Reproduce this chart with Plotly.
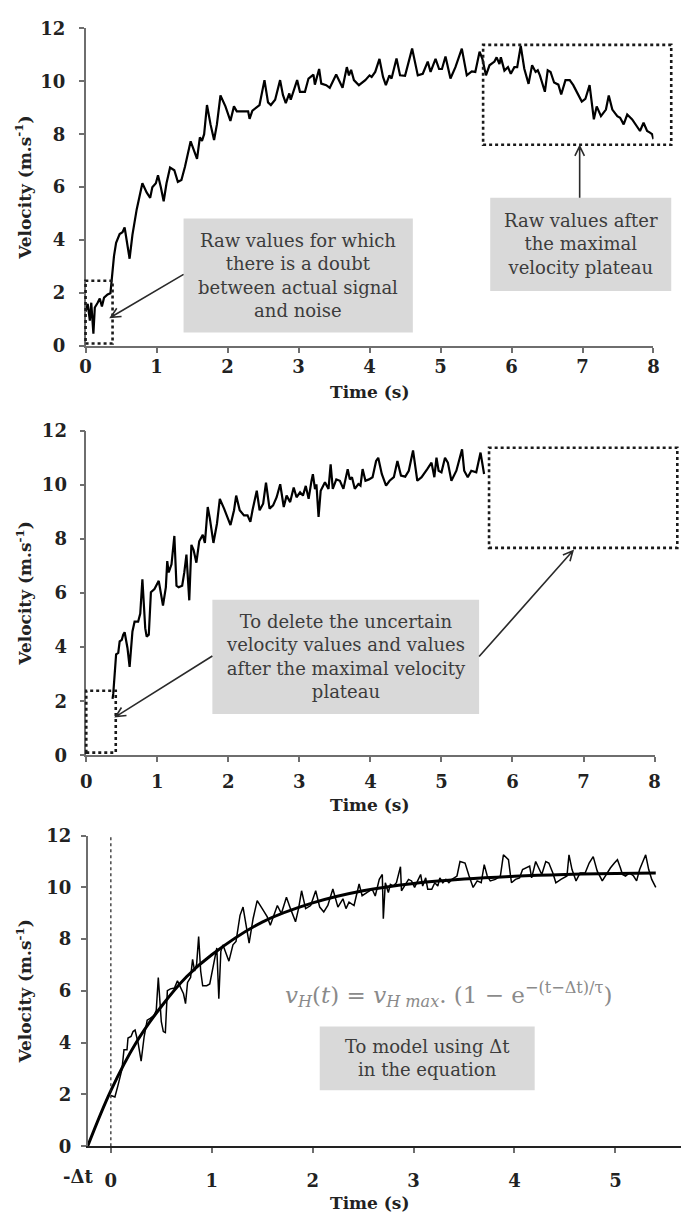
import math
import plotly.graph_objects as go

# ---------------- data ----------------
# Panel 1: raw velocity signal (whole run)
t_raw1 = [0.00, 0.03, 0.06, 0.08, 0.11, 0.13, 0.17, 0.20, 0.23, 0.26, 0.31, 0.35, 0.40, 0.43, 0.48, 0.52,
          0.55, 0.58, 0.62, 0.66, 0.72, 0.80, 0.86, 0.91, 0.94, 0.99, 1.02, 1.06, 1.10, 1.14, 1.19, 1.25,
          1.30, 1.35, 1.40, 1.48, 1.53, 1.57, 1.61, 1.64, 1.67, 1.71, 1.76, 1.81, 1.85, 1.90, 1.97, 2.04,
          2.09, 2.13, 2.29, 2.31, 2.35, 2.40, 2.45, 2.52, 2.57, 2.61, 2.67, 2.74, 2.78, 2.82, 2.87, 2.89,
          2.93, 2.98, 3.02, 3.09, 3.14, 3.21, 3.23, 3.29, 3.32, 3.39, 3.44, 3.53, 3.62, 3.68, 3.71, 3.74,
          3.78, 3.85, 3.94, 4.00, 4.03, 4.08, 4.14, 4.19, 4.23, 4.28, 4.31, 4.38, 4.43, 4.50, 4.60, 4.68,
          4.75, 4.82, 4.86, 4.93, 4.98, 5.02, 5.07, 5.14, 5.21, 5.30, 5.37, 5.44, 5.49, 5.55, 5.59, 5.64,
          5.69, 5.76, 5.79, 5.83, 5.85, 5.90, 5.95, 5.99, 6.04, 6.08, 6.13, 6.18, 6.24, 6.29, 6.34, 6.37,
          6.40, 6.47, 6.51, 6.55, 6.60, 6.66, 6.70, 6.76, 6.82, 6.87, 6.93, 6.99, 7.04, 7.10, 7.16, 7.20,
          7.26, 7.33, 7.37, 7.42, 7.49, 7.53, 7.58, 7.63, 7.70, 7.75, 7.81, 7.86, 7.91, 7.95, 7.98, 8.00]
v_raw1 = [1.30, 1.60, 0.96, 1.64, 0.47, 1.46, 1.64, 1.80, 1.50, 1.83, 1.95, 2.00, 3.40, 3.90, 4.23, 4.30,
          4.48, 3.90, 3.30, 4.20, 5.16, 6.15, 5.80, 5.60, 6.00, 6.15, 6.45, 6.00, 5.47, 6.15, 6.74, 6.64,
          6.20, 6.27, 6.77, 7.73, 7.38, 7.07, 7.88, 7.75, 8.00, 9.10, 8.37, 7.78, 8.37, 9.46, 9.05, 8.50,
          9.05, 8.86, 8.86, 8.58, 8.89, 9.00, 9.10, 10.04, 9.20, 9.10, 9.30, 10.04, 9.48, 9.17, 9.54, 9.30,
          9.60, 10.04, 9.60, 9.60, 10.10, 10.25, 9.87, 10.46, 9.91, 9.85, 9.75, 10.25, 9.75, 10.53, 10.22, 10.43,
          10.04, 9.85, 10.04, 10.22, 10.16, 10.35, 10.84, 10.16, 9.85, 10.22, 10.10, 10.86, 10.22, 10.20, 11.23, 10.22,
          10.28, 10.74, 10.35, 10.84, 10.46, 10.46, 10.93, 10.10, 10.53, 11.23, 10.22, 10.37, 10.35, 11.11, 10.84, 10.22,
          10.60, 10.74, 10.90, 10.65, 10.90, 10.40, 10.53, 10.28, 10.53, 10.53, 11.33, 10.47, 9.90, 10.60, 10.35, 10.41,
          10.22, 9.60, 10.41, 10.35, 9.95, 9.87, 9.50, 10.04, 10.04, 9.85, 9.54, 9.23, 9.33, 9.85, 8.56, 9.05,
          8.68, 8.93, 9.46, 8.93, 8.68, 8.62, 8.37, 8.74, 8.56, 8.37, 8.12, 8.43, 8.12, 8.06, 8.00, 7.81]

# Panel 2: raw signal after deleting uncertain values
t_raw2 = [0.37, 0.38, 0.42, 0.45, 0.47, 0.50, 0.52, 0.54, 0.58, 0.61, 0.65, 0.68, 0.73, 0.76, 0.79, 0.83,
          0.85, 0.88, 0.91, 0.96, 1.02, 1.05, 1.08, 1.12, 1.14, 1.16, 1.20, 1.24, 1.27, 1.30, 1.35, 1.38,
          1.41, 1.45, 1.48, 1.51, 1.55, 1.59, 1.64, 1.67, 1.71, 1.74, 1.79, 1.84, 1.88, 1.94, 1.99, 2.03,
          2.08, 2.11, 2.16, 2.22, 2.27, 2.31, 2.34, 2.40, 2.44, 2.49, 2.53, 2.58, 2.63, 2.68, 2.73, 2.78,
          2.82, 2.87, 2.92, 2.96, 3.01, 3.05, 3.09, 3.13, 3.17, 3.19, 3.22, 3.24, 3.27, 3.30, 3.36, 3.41,
          3.44, 3.47, 3.52, 3.57, 3.62, 3.68, 3.71, 3.74, 3.78, 3.83, 3.86, 3.89, 3.93, 3.98, 4.03, 4.08,
          4.11, 4.16, 4.22, 4.27, 4.33, 4.38, 4.43, 4.49, 4.54, 4.60, 4.66, 4.72, 4.80, 4.86, 4.90, 4.93,
          4.96, 5.00, 5.05, 5.09, 5.14, 5.21, 5.29, 5.32, 5.37, 5.42, 5.49, 5.55, 5.60]
v_raw2 = [2.09, 2.28, 3.73, 3.79, 4.21, 4.27, 4.46, 4.55, 3.97, 3.27, 4.58, 4.94, 4.94, 5.24, 6.51, 4.70,
          4.39, 4.46, 6.03, 6.15, 6.45, 6.03, 5.54, 6.21, 7.18, 6.76, 7.06, 8.11, 6.27, 6.21, 6.27, 6.76,
          7.42, 5.73, 7.78, 7.60, 7.12, 7.91, 8.15, 7.85, 9.18, 8.75, 7.85, 8.57, 9.48, 9.12, 8.81, 8.51,
          9.06, 9.60, 9.06, 8.87, 8.87, 8.63, 9.06, 9.78, 9.06, 9.30, 10.08, 9.12, 9.24, 9.54, 10.02, 9.18,
          9.60, 9.36, 9.90, 9.54, 9.72, 9.60, 9.96, 9.48, 10.14, 10.39, 9.84, 10.02, 8.81, 9.78, 10.09, 9.85,
          10.76, 9.85, 10.20, 10.15, 9.85, 10.58, 10.20, 10.28, 9.85, 10.03, 9.97, 10.58, 10.15, 10.20, 10.28, 10.88,
          11.00, 10.40, 9.97, 10.15, 10.28, 10.88, 10.34, 10.30, 10.52, 11.27, 10.15, 10.28, 10.58, 10.82, 10.28, 11.00,
          10.52, 10.46, 11.00, 10.82, 10.15, 10.52, 11.31, 10.52, 10.28, 10.52, 10.46, 11.19, 10.40]

# Panel 3: retained raw signal, time re-referenced
t_raw3 = [0.00, 0.04, 0.07, 0.11, 0.13, 0.16, 0.17, 0.20, 0.22, 0.24, 0.27, 0.30, 0.33, 0.36, 0.39, 0.43,
          0.45, 0.47, 0.50, 0.52, 0.54, 0.56, 0.59, 0.63, 0.66, 0.69, 0.72, 0.74, 0.76, 0.79, 0.81, 0.83,
          0.85, 0.87, 0.89, 0.91, 0.95, 0.98, 1.02, 1.05, 1.07, 1.09, 1.11, 1.15, 1.17, 1.21, 1.24, 1.28,
          1.31, 1.34, 1.37, 1.41, 1.45, 1.50, 1.55, 1.58, 1.62, 1.65, 1.69, 1.74, 1.78, 1.83, 1.86, 1.89,
          1.93, 1.98, 2.03, 2.07, 2.11, 2.15, 2.20, 2.25, 2.30, 2.33, 2.36, 2.41, 2.46, 2.49, 2.54, 2.57,
          2.59, 2.62, 2.66, 2.69, 2.70, 2.72, 2.75, 2.77, 2.80, 2.83, 2.87, 2.88, 2.91, 2.95, 2.98, 3.01,
          3.04, 3.07, 3.09, 3.12, 3.14, 3.18, 3.21, 3.24, 3.26, 3.29, 3.32, 3.35, 3.38, 3.43, 3.46, 3.51,
          3.55, 3.59, 3.63, 3.67, 3.70, 3.73, 3.76, 3.81, 3.86, 3.89, 3.94, 3.97, 4.01, 4.05, 4.08, 4.12,
          4.15, 4.17, 4.21, 4.24, 4.27, 4.31, 4.34, 4.38, 4.41, 4.46, 4.49, 4.52, 4.54, 4.57, 4.61, 4.65,
          4.70, 4.74, 4.78, 4.82, 4.87, 4.91, 4.95, 4.99, 5.02, 5.05, 5.07, 5.10, 5.14, 5.18, 5.21, 5.24,
          5.28, 5.30, 5.33, 5.36, 5.40]
v_raw3 = [1.96, 1.90, 2.34, 2.97, 3.73, 3.73, 4.18, 4.24, 4.43, 4.49, 3.99, 3.29, 4.24, 4.87, 4.94, 5.06,
          5.25, 6.52, 4.81, 4.43, 4.39, 6.01, 6.08, 6.11, 6.39, 6.14, 5.89, 5.51, 6.33, 6.52, 7.22, 6.77,
          7.03, 8.10, 6.77, 6.20, 6.20, 6.27, 7.09, 7.66, 5.70, 7.53, 7.78, 7.34, 7.15, 7.78, 7.91, 8.92,
          9.24, 8.54, 7.85, 8.80, 9.49, 9.18, 8.86, 8.54, 8.99, 9.30, 8.99, 9.62, 9.18, 8.67, 9.18, 9.87,
          9.18, 9.30, 9.87, 9.24, 9.05, 9.30, 9.94, 9.24, 9.56, 9.18, 9.43, 9.30, 10.13, 9.68, 9.81, 9.87,
          9.93, 9.67, 10.31, 10.50, 8.79, 10.18, 9.80, 10.12, 10.05, 10.18, 10.80, 9.87, 10.05, 10.31, 10.25, 10.00,
          10.25, 10.50, 10.05, 10.37, 9.93, 9.93, 10.18, 10.05, 10.37, 10.18, 10.31, 10.18, 10.31, 10.44, 11.00, 10.94,
          10.44, 10.00, 10.25, 10.18, 10.88, 10.44, 10.25, 10.31, 10.44, 11.26, 11.07, 10.18, 10.31, 10.37, 10.69, 10.75,
          10.82, 10.37, 11.00, 10.75, 10.50, 11.00, 10.94, 10.56, 10.18, 10.31, 10.37, 10.44, 11.26, 10.69, 10.25, 10.56,
          10.56, 10.94, 11.19, 10.63, 10.25, 10.50, 10.75, 10.94, 11.07, 10.75, 10.50, 10.44, 10.56, 10.44, 10.25, 10.69,
          11.07, 11.26, 10.69, 10.31, 10.00]

# Panel 3: modelled curve
t_model = [-0.23, 0.00, 0.25, 0.50, 0.75, 1.00, 1.50, 2.00, 2.50, 3.00, 3.50, 4.00, 4.50, 5.00, 5.40]
v_model = [0.00, 2.15, 4.00, 5.40, 6.55, 7.40, 8.66, 9.40, 9.87, 10.15, 10.32, 10.43, 10.50, 10.54, 10.56]

x_ticks_12 = [0, 1, 2, 3, 4, 5, 6, 7, 8]
x_ticks_3 = [0, 1, 2, 3, 4, 5]
y_ticks = [0, 2, 4, 6, 8, 10, 12]
delta_t = 0.23

x_title = "Time (s)"
y_title = "Velocity (m.s<sup>-1</sup>)"
txt_doubt = "Raw values for which<br>there is a doubt<br>between actual signal<br>and noise"
txt_after = "Raw values after<br>the maximal<br>velocity plateau"
txt_delete = "To delete the uncertain<br>velocity values and values<br>after the maximal velocity<br>plateau"
txt_model = "To model using \u0394t<br>in the equation"
txt_eq = ("<i>v<sub>H</sub></i>(<i>t</i>) = <i>v<sub>H max</sub></i>. (1 \u2212 e<sup>\u2212(t\u2212\u0394t)/\u03c4</sup>)")

# ---------------- layout geometry ----------------
W, H = 687, 1227
P = {
    1: dict(xd=[81 / W, 659 / W], yd=[1 - 341 / H, 1 - 17.5 / H], xr=[0, 8], yr=[0, 12]),
    2: dict(xd=[81.7 / W, 660.1 / W], yd=[1 - 757.3 / H, 1 - 427 / H], xr=[0, 8], yr=[0, 12]),
    3: dict(xd=[83.1 / W, 1.0], yd=[1 - 1155 / H, 1 - 839 / H], xr=[-delta_t, 5.65], yr=[0, 12]),
}


def to_px(p, t, v):
    g = P[p]
    fx = (t - g["xr"][0]) / (g["xr"][1] - g["xr"][0])
    fy = (v - g["yr"][0]) / (g["yr"][1] - g["yr"][0])
    px = (g["xd"][0] + fx * (g["xd"][1] - g["xd"][0])) * W
    py = (1 - (g["yd"][0] + fy * (g["yd"][1] - g["yd"][0]))) * H
    return px, py


def px_to_paper(px, py):
    return px / W, 1 - py / H


def to_paper(p, t, v):
    return px_to_paper(*to_px(p, t, v))


FONT = "DejaVu Serif"
shapes, annos = [], []


def box(p, t0, v0, t1, v1, dotted=True):
    x0, y0 = to_paper(p, t0, v0)
    x1, y1 = to_paper(p, t1, v1)
    if dotted:
        shapes.append(dict(type="rect", xref="paper", yref="paper", x0=x0, y0=y0, x1=x1, y1=y1,
                           line=dict(color="#1a1a1a", width=2.6, dash="dot"), fillcolor="rgba(0,0,0,0)"))
    else:
        shapes.append(dict(type="rect", xref="paper", yref="paper", x0=x0, y0=y0, x1=x1, y1=y1,
                           line=dict(width=0), fillcolor="#d9d9d9", layer="below"))


def text_box(p, t0, v0, t1, v1, text):
    box(p, t0, v0, t1, v1, dotted=False)
    xc, yc = to_paper(p, (t0 + t1) / 2, (v0 + v1) / 2)
    annos.append(dict(xref="paper", yref="paper", x=xc, y=yc, text=text, showarrow=False,
                      xanchor="center", yanchor="middle",
                      font=dict(family=FONT, size=18, color="#3c3c3c"), align="center"))


def arrow(p, tail, head, wing=11, ang=26):
    tx, ty = to_px(p, *tail)
    hx, hy = to_px(p, *head)
    dx, dy = tx - hx, ty - hy
    n = math.hypot(dx, dy)
    ux, uy = dx / n, dy / n
    pts = []
    for s in (1, -1):
        a = math.radians(ang) * s
        wx = hx + wing * (ux * math.cos(a) - uy * math.sin(a))
        wy = hy + wing * (ux * math.sin(a) + uy * math.cos(a))
        pts.append(px_to_paper(wx, wy))
    T = px_to_paper(tx, ty)
    Hh = px_to_paper(hx, hy)
    path = (f"M {T[0]},{T[1]} L {Hh[0]},{Hh[1]} "
            f"M {pts[0][0]},{pts[0][1]} L {Hh[0]},{Hh[1]} L {pts[1][0]},{pts[1][1]}")
    shapes.append(dict(type="path", xref="paper", yref="paper", path=path,
                       line=dict(color="#2a2a2a", width=1.6)))


# ---------------- figure ----------------
fig = go.Figure()
fig.add_trace(go.Scatter(x=t_raw1, y=v_raw1, mode="lines", line=dict(color="black", width=2.2),
                         xaxis="x", yaxis="y", showlegend=False, hoverinfo="skip"))
fig.add_trace(go.Scatter(x=t_raw2, y=v_raw2, mode="lines", line=dict(color="black", width=2.2),
                         xaxis="x2", yaxis="y2", showlegend=False, hoverinfo="skip"))
fig.add_trace(go.Scatter(x=t_raw3, y=v_raw3, mode="lines", line=dict(color="black", width=1.5),
                         xaxis="x3", yaxis="y3", showlegend=False, hoverinfo="skip"))
fig.add_trace(go.Scatter(x=t_model, y=v_model, mode="lines", line=dict(color="black", width=3, shape="spline"),
                         xaxis="x3", yaxis="y3", showlegend=False, hoverinfo="skip"))

tickfont = dict(family=FONT, size=18, color="#222222", weight="bold")
ax_common = dict(showline=True, linecolor="#6e6e6e", linewidth=1.5, ticks="outside", ticklen=5,
                 tickcolor="#6e6e6e", tickwidth=1.5, showgrid=False, zeroline=False, tickfont=tickfont,
                 fixedrange=True)

lay = {}
for p in (1, 2, 3):
    sx = "" if p == 1 else str(p)
    g = P[p]
    xt = x_ticks_12 if p < 3 else x_ticks_3
    lay["xaxis" + sx] = dict(ax_common, domain=g["xd"], range=g["xr"], anchor="y" + sx,
                             tickvals=xt, ticktext=[str(v) for v in xt],
                             ticklabelstandoff={1: -2, 2: 4, 3: 12}[p])
    lay["yaxis" + sx] = dict(ax_common, domain=g["yd"], range=g["yr"], anchor="x" + sx,
                             tickvals=y_ticks, ticktext=[str(v) for v in y_ticks],
                             ticklabelstandoff={1: 10, 2: 9, 3: 6}[p])
lay["xaxis3"]["linecolor"] = "#222222"
lay["xaxis3"]["linewidth"] = 2

# axis titles
title_font = dict(family=FONT, size=17, color="#222222", weight="bold")
for p, ty in ((1, 388), (2, 808), (3, 1213)):
    annos.append(dict(xref="paper", yref="paper", x=370 / W, y=1 - ty / H, text=x_title, showarrow=False,
                      font=title_font, xanchor="center", yanchor="middle"))
    yc = (to_px(p, 0, 0)[1] + to_px(p, 0, 12)[1]) / 2
    annos.append(dict(xref="paper", yref="paper", x=18 / W, y=1 - yc / H, text=y_title, showarrow=False,
                      textangle=-90, font=title_font, xanchor="center", yanchor="middle"))

# -Δt label
dx, dy = to_px(3, -delta_t, 0)
annos.append(dict(xref="paper", yref="paper", x=(dx - 10) / W, y=1 - (dy + 31) / H, text="-\u0394t",
                  showarrow=False, font=tickfont, xanchor="center", yanchor="middle"))

# panel 1 annotations
box(1, 0.0, 0.1, 0.38, 2.47)
box(1, 5.60, 7.60, 8.25, 11.37)
text_box(1, 1.38, 0.52, 4.61, 4.82, txt_doubt)
text_box(1, 5.70, 2.08, 8.25, 5.60, txt_after)
arrow(1, (1.38, 2.71), (0.355, 1.09))
arrow(1, (6.96, 5.60), (6.96, 7.55))

# panel 2 annotations
box(2, 0.0, 0.1, 0.415, 2.39)
box(2, 5.67, 7.67, 8.32, 11.37)
text_box(2, 1.775, 1.53, 5.53, 5.75, txt_delete)
arrow(2, (1.775, 3.67), (0.415, 1.43))
arrow(2, (5.53, 3.65), (6.85, 7.56))

# panel 3 annotations
shapes.append(dict(type="line", xref="x3", yref="y3", x0=0, x1=0, y0=0, y1=12.2,
                   line=dict(color="#1a1a1a", width=1.2, dash="dot")))
text_box(3, 2.07, 2.16, 4.20, 4.63, txt_model)
ex, ey = to_paper(3, 3.35, 5.88)
annos.append(dict(xref="paper", yref="paper", x=ex, y=ey, text=txt_eq, showarrow=False,
                  font=dict(family=FONT, size=23, color="#8a8a8a"), xanchor="center", yanchor="middle"))

fig.update_layout(
    width=W, height=H, margin=dict(l=0, r=0, t=0, b=0),
    paper_bgcolor="white", plot_bgcolor="white",
    shapes=shapes, annotations=annos, showlegend=False,
    **lay,
)

fig.write_html("out.html", include_plotlyjs=True, config={"displayModeBar": False})
